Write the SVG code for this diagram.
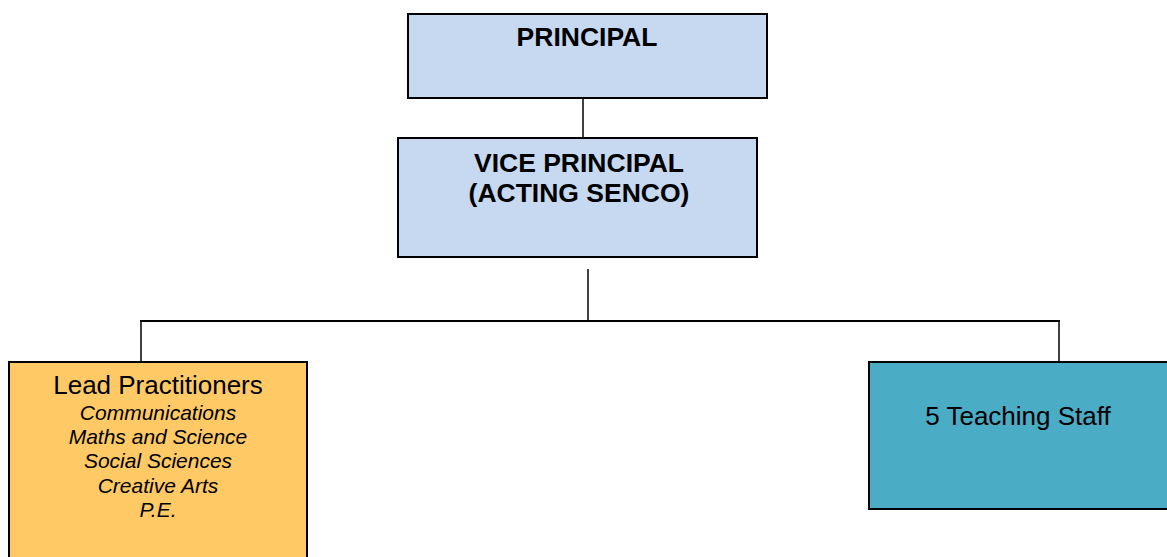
<svg xmlns="http://www.w3.org/2000/svg" width="1167" height="557" viewBox="0 0 1167 557">
  <style>
    .box { stroke: #000; stroke-width: 2; }
    .exec { fill: #C6D9F1; }
    .lead { fill: #FFCA66; }
    .staff { fill: #4BACC6; }
    .hd { font-family: "Liberation Sans", Arial, sans-serif; font-weight: bold; font-size: 26.5px; fill: #000; text-anchor: middle; }
    .tt { font-family: "Liberation Sans", Arial, sans-serif; font-size: 26px; fill: #000; text-anchor: middle; }
    .it { font-family: "Liberation Sans", Arial, sans-serif; font-style: italic; font-size: 21px; fill: #000; text-anchor: middle; }
    .conn { stroke: #000; fill: none; }
  </style>

  <g id="connectors">
    <line class="conn" x1="583" y1="99" x2="583" y2="138" stroke-width="1.5"/>
    <line class="conn" x1="588" y1="269" x2="588" y2="321" stroke-width="1.5"/>
    <line class="conn" x1="140" y1="321" x2="1060" y2="321" stroke-width="2"/>
    <line class="conn" x1="141" y1="322" x2="141" y2="362" stroke-width="1.5"/>
    <line class="conn" x1="1059" y1="322" x2="1059" y2="362" stroke-width="1.5"/>
  </g>

  <g id="principal">
    <rect class="box exec" x="408" y="14" width="359" height="84"/>
    <text class="hd" x="587" y="46">PRINCIPAL</text>
  </g>

  <g id="vice-principal">
    <rect class="box exec" x="398" y="138" width="359" height="119"/>
    <text class="hd" x="579" y="172">VICE PRINCIPAL</text>
    <text class="hd" x="579" y="202">(ACTING SENCO)</text>
  </g>

  <g id="lead-practitioners">
    <rect class="box lead" x="9" y="362" width="298" height="200"/>
    <text class="tt" x="158" y="394">Lead Practitioners</text>
    <text class="it" x="158" y="420">Communications</text>
    <text class="it" x="158" y="444">Maths and Science</text>
    <text class="it" x="158" y="468">Social Sciences</text>
    <text class="it" x="158" y="493">Creative Arts</text>
    <text class="it" x="158" y="517">P.E.</text>
  </g>

  <g id="teaching-staff">
    <rect class="box staff" x="869" y="362" width="300" height="147"/>
    <text class="tt" x="1018" y="425">5 Teaching Staff</text>
  </g>
</svg>
